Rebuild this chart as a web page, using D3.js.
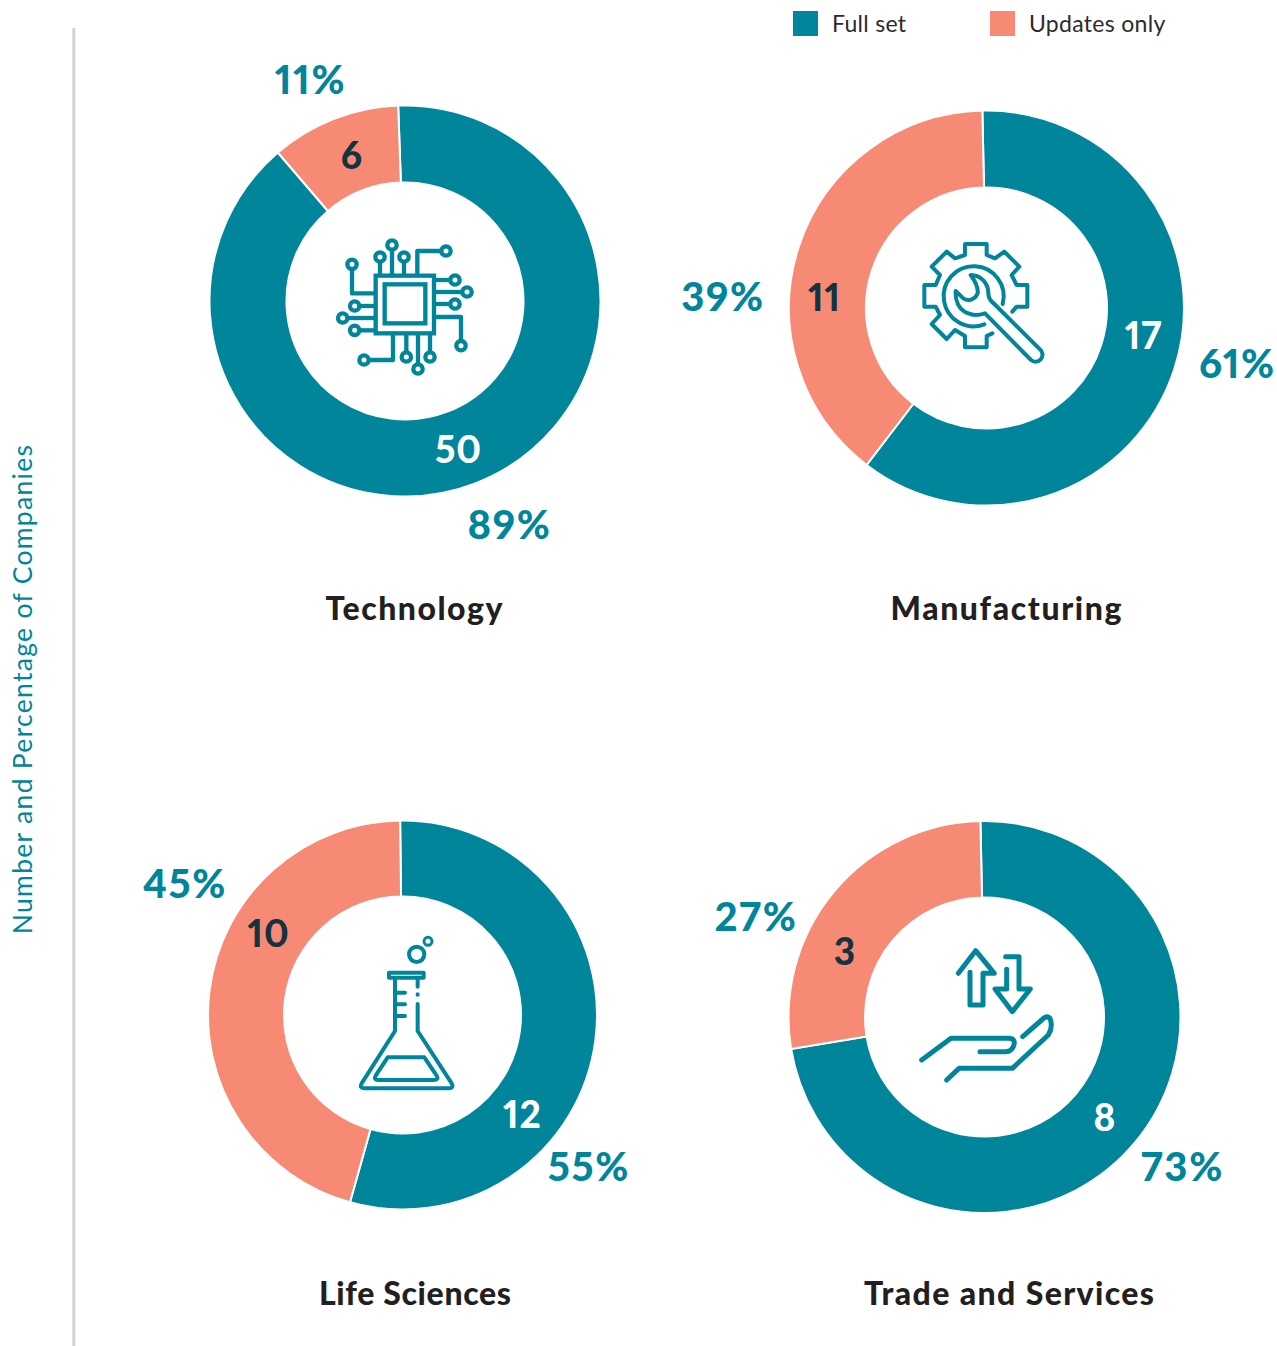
<!DOCTYPE html>
<html>
<head>
<meta charset="utf-8">
<script src="https://cdn.jsdelivr.net/npm/d3@7"></script>
<style>
    html, body { margin: 0; padding: 0; background: #fff; }
    text { font-family: Lato, sans-serif; font-variant-numeric: proportional-nums; }
</style>
</head>
<body>
<div id="chart-container"></div>
<script>
const sectors = ["Technology", "Manufacturing", "Life Sciences", "Trade and Services"];
const fullSet = [50, 17, 12, 8];
const updatesOnly = [6, 11, 10, 3];
const fullPercent = ["89%", "61%", "55%", "73%"];
const updatesPercent = ["11%", "39%", "45%", "27%"];
const legendLabels = ["Full set", "Updates only"];
const yTitle = "Number and Percentage of Companies";

const colors = ["#00859b", "#f78a75"];
const numberColors = ["#ffffff", "#12333f"];
const width = 1277, height = 1346;

// where each donut and its labels sit, in page pixels
const layout = [
    { cx: 405, cy: 301, R: 195.5, r: 118.5, start: -2, title: [414, 608], titleWidth: 177, fullPct: [509.5, 525], updPct: [310.5, 80], fullNum: [458.5, 450], updNum: [352, 156], icon: "chip" },
    { cx: 986.5, cy: 308, R: 197.5, r: 120.5, start: -1.2, title: [1006, 608], titleWidth: 231, fullPct: [1237.5, 364], updPct: [723, 297], fullNum: [1143.5, 336], updNum: [824.5, 298], icon: "gear" },
    { cx: 402.5, cy: 1015, R: 194.5, r: 118.5, start: -0.7, title: [415, 1293], titleWidth: 192, fullPct: [589, 1167], updPct: [185, 884], fullNum: [522.5, 1115], updNum: [268.5, 934], icon: "flask" },
    { cx: 984.5, cy: 1017, R: 196, r: 119.5, start: -1.2, title: [1009, 1293], titleWidth: 290, fullPct: [1182.5, 1167], updPct: [756, 917], fullNum: [1105, 1118], updNum: [845, 952], icon: "hand" }
];

const svg = d3.select("#chart-container")
    .append("svg")
    .attr("width", width)
    .attr("height", height)
    .style("display", "block");

// icons are traced at 3x, so each group is scaled down by a third
function iconGroup(x, y, strokeWidth) {
    return svg.append("g")
        .attr("transform", `translate(${x},${y}) scale(${1 / 3})`)
        .attr("fill", "none")
        .attr("stroke", "#00859b")
        .attr("stroke-width", strokeWidth)
        .attr("stroke-linecap", "round")
        .attr("stroke-linejoin", "round");
}

const icons = {
    chip() {
        const g = iconGroup(320, 225, 13);
        g.append("rect").attr("x", 167).attr("y", 152).attr("width", 175).attr("height", 173).attr("stroke-linejoin", "miter");
        g.append("rect").attr("x", 194).attr("y", 178).attr("width", 122).attr("height", 117).attr("stroke-linejoin", "miter");
        const pins = [
            "M180,110V152", "M216,74V152", "M252,110V152", "M364,78H292V152",
            "M96,132V205H167", "M118,243H167", "M82,279H167", "M118,316H167",
            "M342,165H391", "M342,201H427", "M342,237H391", "M342,276H423V348",
            "M146,405H219V325", "M259,382V325", "M294,418V325", "M330,382V325"
        ];
        pins.forEach(d => g.append("path").attr("d", d).attr("stroke-linecap", "butt"));
        const ends = [[180, 96], [216, 60], [252, 96], [378, 78], [96, 118], [104, 243], [68, 279], [104, 316],
            [405, 165], [441, 201], [405, 237], [423, 362], [132, 405], [259, 396], [294, 432], [330, 396]];
        ends.forEach(c => g.append("circle").attr("cx", c[0]).attr("cy", c[1]).attr("r", 14));
    },
    gear() {
        const g = iconGroup(905, 230, 12);
        g.append("path").attr("d", "M322,245L335,230H367V165H335L320,135L343,110L298,65L270,85L245,75V42H180V75L150,85L125,65L80,110L105,135L92,165H58V230H92L105,255L80,282L125,327L150,300L180,318V352H245V318L262,310");
        g.append("path").attr("d", "M238,283A90,90 0 1 1 293,222");
        g.append("path").attr("d", "M197,135C228,135 250,160 250,190C250,205 258,215 268,222L405,358A20,20 0 0 1 378,390L240,250C225,255 205,258 190,250C160,240 150,210 152,183L175,205C190,215 210,210 218,190C220,175 215,160 197,135Z");
    },
    flask() {
        const g = iconGroup(345, 925, 12);
        g.append("circle").attr("cx", 215).attr("cy", 88).attr("r", 23);
        g.append("circle").attr("cx", 249).attr("cy", 49).attr("r", 12).attr("stroke-width", 9);
        g.append("rect").attr("x", 132).attr("y", 143).attr("width", 104).attr("height", 15);
        ["M150,158V318L50,475Q42,490 60,490H310Q328,490 320,475L218,318V237", "M218,208V209", "M218,158V185",
            "M150,203H180", "M150,238H180", "M150,273H180",
            "M128,397H238L275,452Q282,465 268,465H100Q85,465 92,452Z"
        ].forEach(d => g.append("path").attr("d", d));
    },
    hand() {
        const g = iconGroup(905, 940, 15);
        ["M160,100L212,32L268,100H234V195H195V97", "M302,50H342V147H376L322,215L270,147H305V88",
            "M50,360L138,295H310Q335,295 325,320Q315,338 295,335H225",
            "M125,420L162,385H322L430,285Q445,260 435,235Q425,225 410,240L353,290"
        ].forEach(d => g.append("path").attr("d", d));
    }
};

// left rule and rotated title
svg.append("line")
    .attr("x1", 73.8).attr("x2", 73.8)
    .attr("y1", 28).attr("y2", height)
    .attr("stroke", "#d4d4d4")
    .attr("stroke-width", 3);

svg.append("text")
    .attr("transform", "translate(32,689) rotate(-90)")
    .attr("text-anchor", "middle")
    .attr("font-size", 26.5)
    .attr("letter-spacing", 1.3)
    .attr("fill", "#00859b")
    .text(yTitle);

// legend
const legendX = [793, 990];
legendLabels.forEach((name, i) => {
    svg.append("rect")
        .attr("x", legendX[i]).attr("y", 11)
        .attr("width", 25).attr("height", 25)
        .attr("fill", colors[i]);
    svg.append("text")
        .attr("x", legendX[i] + 39).attr("y", 32)
        .attr("font-size", 23)
        .attr("letter-spacing", 0.3)
        .attr("fill", "#2b2b2e")
        .text(name);
});

function label(pos, str, size, spacing, fill) {
    return svg.append("text")
        .attr("x", pos[0]).attr("y", pos[1])
        .attr("dy", "0.36em")
        .attr("text-anchor", "middle")
        .attr("font-size", size)
        .attr("font-weight", 900)
        .attr("letter-spacing", spacing)
        .attr("fill", fill)
        .text(str);
}

sectors.forEach((name, i) => {
    const l = layout[i];
    const startAngle = l.start * Math.PI / 180;
    const pie = d3.pie().sort(null).startAngle(startAngle).endAngle(startAngle + 2 * Math.PI);
    const arc = d3.arc().innerRadius(l.r).outerRadius(l.R);

    svg.append("g")
        .attr("transform", `translate(${l.cx},${l.cy})`)
        .selectAll("path")
        .data(pie([fullSet[i], updatesOnly[i]]))
        .enter().append("path")
        .attr("d", arc)
        .attr("fill", (d, j) => colors[j])
        .attr("stroke", "#fff")
        .attr("stroke-width", 2);

    label(l.title, name, 32, 0, "#231f20").attr("textLength", l.titleWidth);
    label(l.fullPct, fullPercent[i], 40, 1.7, colors[0]);
    label(l.updPct, updatesPercent[i], 40, 1.7, colors[0]);
    label(l.fullNum, fullSet[i], 37, 1, numberColors[0]);
    label(l.updNum, updatesOnly[i], 37, 1, numberColors[1]);
    icons[l.icon]();
});
</script>
</body>
</html>
